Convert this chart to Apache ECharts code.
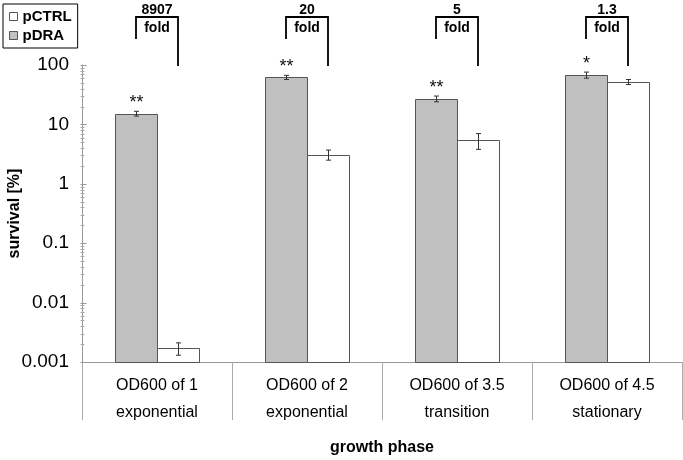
<!DOCTYPE html>
<html><head><meta charset="utf-8">
<script src="https://cdn.jsdelivr.net/npm/echarts@6/dist/echarts.min.js"></script>
<style>html,body{margin:0;padding:0;background:#fff}#c{width:683px;height:460px}</style>
</head><body><div id="c"></div>
<script>
const categories = ['OD600 of 1\nexponential', 'OD600 of 2\nexponential', 'OD600 of 3.5\ntransition', 'OD600 of 4.5\nstationary'];
const pDRA = [15.2, 62, 27, 68];
const pDRAErr = [1.4, 5, 3, 8];
const pCTRL = [0.0017, 3.1, 5.4, 52];
const pCTRLErr = [0.0004, 0.6, 1.6, 5];
const folds = ['8907', '20', '5', '1.3'];
const stars = ['**', '**', '**', '*'];
const yTickLabels = ['0.001', '0.01', '0.1', '1', '10', '100'];
const minorMultipliers = [2, 3, 4, 5, 6, 7, 8, 9];
const Y_MIN = 0.001, Y_MAX = 100;

const FONT = '"Liberation Sans", Arial, sans-serif';
const BAR_W = 42;
const HALF = BAR_W / 2;
const GREY = { fill: '#c0c0c0', stroke: '#555555' };
const WHITE = { fill: '#ffffff', stroke: '#555555' };

function barRender(vals, side, sty) {
  return function (params, api) {
    const i = params.dataIndex;
    const top = api.coord([i, vals[i]]);
    const base = api.coord([i, Y_MIN]);
    const x0 = side < 0 ? top[0] - BAR_W : top[0];
    return {
      type: 'rect',
      shape: { x: Math.round(x0) + 0.5, y: Math.round(top[1]) + 0.5, width: BAR_W, height: Math.round(base[1]) - Math.round(top[1]) },
      style: { fill: sty.fill, stroke: sty.stroke, lineWidth: 1 }
    };
  };
}

function errRender(vals, errs, side, withStars) {
  return function (params, api) {
    const i = params.dataIndex;
    const c = api.coord([i, vals[i]]);
    const x = Math.round(c[0] + side * HALF) + 0.5;
    const yHi = api.coord([i, vals[i] + errs[i]])[1];
    const yLo = api.coord([i, vals[i] - errs[i]])[1];
    const st = { stroke: '#333', lineWidth: 1 };
    const children = [
      { type: 'line', shape: { x1: x, y1: yHi, x2: x, y2: yLo }, style: st },
      { type: 'line', shape: { x1: x - 2.5, y1: yHi, x2: x + 2.5, y2: yHi }, style: st },
      { type: 'line', shape: { x1: x - 2.5, y1: yLo, x2: x + 2.5, y2: yLo }, style: st }
    ];
    if (withStars) {
      children.push({ type: 'text', style: { text: stars[i], x: x, y: yHi + 1, align: 'center', verticalAlign: 'bottom', font: '18px ' + FONT, fill: '#111' } });
    }
    return { type: 'group', children: children };
  };
}

function bracketRender(params, api) {
  const i = params.dataIndex;
  const c = api.coord([i, Y_MAX]);
  const xL = Math.round(c[0] - HALF), xR = Math.round(c[0] + HALF), yT = c[1];
  const st = { stroke: '#000', lineWidth: 1.8 };
  return {
    type: 'group', children: [
      { type: 'polyline', shape: { points: [[xL, yT - 26], [xL, yT - 48], [xR, yT - 48], [xR, yT + 1]] }, style: Object.assign({ fill: null }, st) },
      { type: 'text', style: { text: folds[i], x: (xL + xR) / 2, y: yT - 55, align: 'center', verticalAlign: 'middle', font: 'bold 14px ' + FONT, fill: '#000' } },
      { type: 'text', style: { text: 'fold', x: (xL + xR) / 2, y: yT - 37, align: 'center', verticalAlign: 'middle', font: 'bold 14px ' + FONT, fill: '#000' } }
    ]
  };
}

function tickRender(params, api) {
  const c0 = api.coord([0, 1]);
  const ax = Math.round(c0[0] - api.size([1, 0])[0] / 2) + 0.5;
  const children = [];
  for (let k = 0; k < yTickLabels.length; k++) {
    const base = parseFloat(yTickLabels[k]);
    const y = Math.round(api.coord([0, base])[1]) + 0.5;
    children.push({ type: 'line', shape: { x1: ax - 2, y1: y, x2: ax + 4, y2: y }, style: { stroke: '#999', lineWidth: 1 } });
    if (k < yTickLabels.length - 1) {
      minorMultipliers.forEach(function (m) {
        const ym = Math.round(api.coord([0, base * m])[1]) + 0.5;
        children.push({ type: 'line', shape: { x1: ax - 2, y1: ym, x2: ax + 2, y2: ym }, style: { stroke: '#aaa', lineWidth: 1 } });
      });
    }
  }
  return { type: 'group', children: children };
}

const chart = echarts.init(document.getElementById('c'), null, { renderer: 'canvas' });
chart.setOption({
  animation: false,
  textStyle: { fontFamily: FONT },
  legend: {
    data: [
      { name: 'pCTRL', itemStyle: { color: WHITE.fill, borderColor: WHITE.stroke, borderWidth: 1 } },
      { name: 'pDRA', itemStyle: { color: GREY.fill, borderColor: GREY.stroke, borderWidth: 1 } }
    ],
    orient: 'vertical', left: 3, top: 4,
    borderColor: '#000', borderWidth: 1,
    padding: [5, 6, 5, 6], itemGap: 4,
    itemWidth: 8, itemHeight: 8, icon: 'rect',
    textStyle: { fontSize: 15, fontWeight: 'bold', color: '#000', fontFamily: FONT }
  },
  grid: { left: 82, right: 1, top: 65, bottom: 98, containLabel: false, outerBoundsMode: 'none' },
  xAxis: {
    type: 'category', data: categories,
    axisLine: { lineStyle: { color: '#999' } },
    axisTick: { show: true, length: 58, lineStyle: { color: '#aaa' }, alignWithLabel: false },
    axisLabel: { fontSize: 16, lineHeight: 27, margin: 10, color: '#000', fontFamily: FONT, interval: 0 },
    name: 'growth phase', nameLocation: 'middle', nameGap: 78, nameMoveOverlap: false,
    nameTextStyle: { fontSize: 16, fontWeight: 'bold', color: '#000', fontFamily: FONT }
  },
  yAxis: {
    type: 'log', logBase: 10, min: Y_MIN, max: Y_MAX,
    axisLine: { show: true, lineStyle: { color: '#999' } },
    axisTick: { show: false },
    splitLine: { show: false },
    axisLabel: {
      fontSize: 19, margin: 13, color: '#000', fontFamily: FONT,
      formatter: function (v) { return yTickLabels[Math.round(Math.log10(v)) + 3]; }
    },
    name: 'survival [%]', nameLocation: 'middle', nameGap: 67, nameMoveOverlap: false,
    nameTextStyle: { fontSize: 16, fontWeight: 'bold', color: '#000', fontFamily: FONT, verticalAlign: 'middle' }
  },
  series: [
    { name: 'pDRA', type: 'custom', clip: false, z: 3, renderItem: barRender(pDRA, -1, GREY),
      itemStyle: { color: GREY.fill, borderColor: GREY.stroke },
      data: pDRA.map(function (v, i) { return [i, v]; }), encode: { x: 0, y: 1 } },
    { name: 'pCTRL', type: 'custom', clip: false, z: 3, renderItem: barRender(pCTRL, 1, WHITE),
      itemStyle: { color: WHITE.fill, borderColor: WHITE.stroke },
      data: pCTRL.map(function (v, i) { return [i, v]; }), encode: { x: 0, y: 1 } },
    { name: 'errDRA', type: 'custom', clip: false, z: 5, renderItem: errRender(pDRA, pDRAErr, -1, true),
      data: pDRA.map(function (v, i) { return [i, v]; }), encode: { x: 0, y: 1 } },
    { name: 'errCTRL', type: 'custom', clip: false, z: 5, renderItem: errRender(pCTRL, pCTRLErr, 1, false),
      data: pCTRL.map(function (v, i) { return [i, v]; }), encode: { x: 0, y: 1 } },
    { name: 'folds', type: 'custom', clip: false, z: 6, renderItem: bracketRender,
      data: folds.map(function (f, i) { return [i, Y_MAX]; }), encode: { x: 0, y: 1 } },
    { name: 'yticks', type: 'custom', clip: false, z: 6, renderItem: tickRender,
      data: [[0, 1]], encode: { x: 0, y: 1 } }
  ]
});
</script></body></html>
